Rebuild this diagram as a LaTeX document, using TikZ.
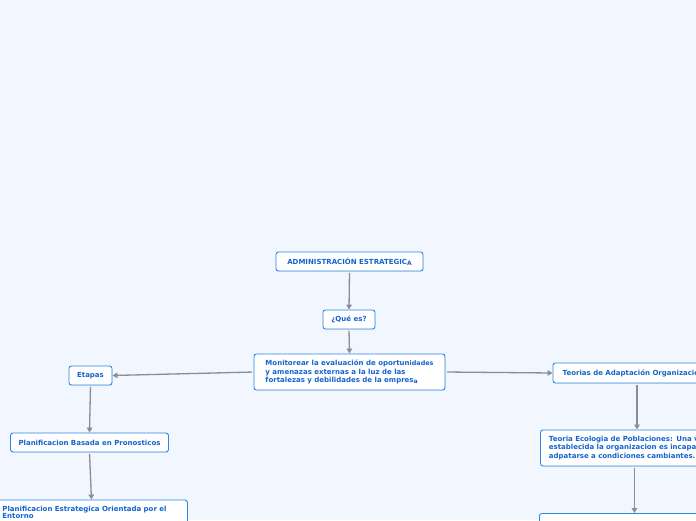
\documentclass[tikz,border=0pt]{standalone}
\usepackage{fontspec}
\setmainfont{DejaVu Sans}
\usetikzlibrary{arrows.meta,shadows}
\definecolor{bg}{RGB}{242,246,254}
\definecolor{bx}{RGB}{45,135,230}
\definecolor{tx}{RGB}{20,100,205}
\definecolor{ln}{RGB}{140,140,148}
\newcommand{\smallch}[1]{{\fontsize{6}{6}\selectfont\raisebox{-1pt}{#1}}}
\begin{document}
\begin{tikzpicture}[x=1pt,y=-1pt,
  box/.style={draw=bx,line width=0.9pt,fill=white,rounded corners=2.5pt,text=tx,
    font=\fontsize{7}{8.5}\selectfont\bfseries,inner xsep=8pt,inner ysep=0pt,
    minimum height=19pt,
    drop shadow={opacity=0.12,shadow xshift=0.6pt,shadow yshift=-0.9pt}},
  conn/.style={draw=ln,line width=1.3pt,shorten <=1.5pt,-{Triangle[length=5pt,width=5.5pt]}}]
\fill[bg] (0,0) rectangle (696,520);
\useasboundingbox (0,0) rectangle (696,520);
\clip (0,0) rectangle (696,520);

\node[box,minimum width=147pt] (adm) at (349.5,261.5) {ADMINISTRACIÓN ESTRATEGIC\smallch{A}};
\node[box,minimum width=52pt] (que) at (349,319.5) {¿Qué es?};
\node[box,minimum width=191pt,minimum height=36pt,align=left,inner xsep=9pt] (mon) at (349.5,372)
  {Monitorear la evaluación de oportun{\fontsize{6.4}{6}\selectfont idades}\\y amenazas externas a la luz de las\\fortalezas y debilidades de la empres\smallch{a}};
\node[box,minimum width=43pt] (eta) at (90.5,375.5) {Etapas};
\node[box,minimum width=157pt] (pbp) at (89.5,442.5) {Planificacion Basada en Pronosticos};
\node[box,anchor=north west,text width=178pt,align=left,inner xsep=7pt,inner ysep=6pt,minimum height=0pt,
  font=\fontsize{7}{7.6}\selectfont\bfseries] (peo) at (-5,499.5)
  {Planificacion Estrategica Orientada por el\\Entorno};
\node[box,minimum width=168pt,minimum height=20pt] (teo) at (637,373) {Teorias de Adaptación Organizacional};
\node[box,anchor=north west,text width=195pt,align=left,inner xsep=8.5pt,inner ysep=0pt,minimum height=36pt] (eco) at (540,429.5)
  {Teoria Ecologia de Poblaciones: Una vez\\establecida la organizacion es incapaz de\\adpatarse a condiciones cambiantes.};
\node[box,anchor=north west,minimum width=190pt,minimum height=30pt] (brx) at (539,513) {};

\draw[conn] (adm.south) -- (que.north);
\draw[conn] (que.south) -- (mon.north);
\draw[conn] (mon.west) -- (eta.east);
\draw[conn] (mon.east) -- (teo.west);
\draw[conn] (eta.south) -- (pbp.north);
\draw[conn] (pbp.south) -- (peo.north);
\draw[conn] (teo.south) -- (teo.south |- eco.north);
\draw[conn] (brx.north |- eco.south) -- (brx.north);
\end{tikzpicture}
\end{document}
